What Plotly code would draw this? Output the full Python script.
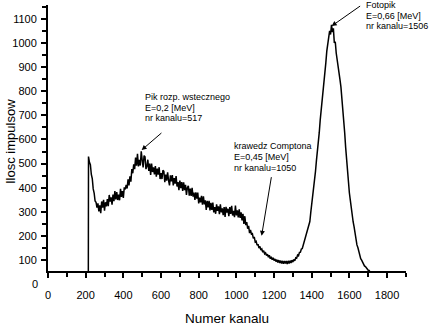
import numpy as np
import plotly.graph_objects as go

# ---------------- data ----------------
first_channel = 214
first_count = 0
channel_start = 215
channel_step = 5

counts_low = [  # 215 .. 510
    529, 505, 495, 455, 438, 395, 378, 345, 340, 318,
    335, 302, 327, 295, 343, 317, 350, 305, 340, 323,
    353, 324, 370, 343, 360, 330, 372, 344, 386, 352,
    382, 349, 371, 348, 395, 362, 386, 358, 402, 393,
    412, 397, 435, 410, 447, 425, 477, 460, 497, 477,
    525, 491, 540, 488, 515, 492, 551, 515, 484, 533,
]
counts_mid = [  # 515 .. 1010
    528, 477, 489, 516, 470, 500, 453, 500, 465, 484,
    455, 490, 446, 479, 454, 485, 436, 461, 436, 472,
    468, 423, 454, 429, 464, 430, 410, 451, 426, 452,
    410, 440, 417, 448, 405, 423, 390, 430, 398, 423,
    387, 422, 390, 412, 370, 400, 408, 367, 396, 366,
    400, 363, 380, 349, 381, 355, 380, 335, 359, 339,
    366, 330, 364, 331, 348, 308, 346, 318, 346, 306,
    337, 308, 338, 298, 320, 292, 331, 304, 323, 290,
    331, 298, 315, 286, 320, 279, 321, 297, 313, 282,
    320, 292, 325, 285, 304, 278, 326, 285, 306, 277,
]
counts_compton = [  # 1015 .. 1360
    310, 275, 298, 265, 292, 250, 282, 245, 258, 230,
    242, 212, 225, 208, 210, 190, 196, 175, 178, 162,
    166, 150, 157, 142, 146, 133, 139, 126, 130, 119,
    125, 112, 120, 106, 114, 102, 110, 98, 105, 94,
    102, 90, 100, 88, 98, 86, 97, 85, 96, 86,
    96, 84, 97, 86, 98, 88, 100, 92, 103, 97,
    110, 108, 121, 118, 132, 133, 146, 148, 162, 166,
]
counts_peak = [  # 1365 .. 1715
    182, 194, 213, 224, 245, 260, 298, 328, 368, 398,
    438, 468, 512, 543, 592, 628, 680, 716, 765, 798,
    832, 858, 918, 966, 1003, 1028, 1050, 1035, 1075, 1045,
    1060, 1000, 1005, 958, 935, 898, 880, 848, 818, 778,
    732, 678, 628, 568, 512, 448, 418, 378, 348, 308,
    288, 258, 238, 208, 190, 163, 152, 133, 122, 106,
    100, 89, 85, 76, 73, 66, 65, 58, 57, 50, 44,
]

x_ticks = [0, 200, 400, 600, 800, 1000, 1200, 1400, 1600, 1800]
y_ticks = [100, 200, 300, 400, 500, 600, 700, 800, 900, 1000, 1100]
x_range = [0, 1900.5]
y_range = [55, 1157]

x_title = "Numer kanalu"
y_title = "Ilosc impulsow"

notes = [
    # (arrow head ch, count, tail ch, count, text lines)
    (497, 556, 610, 632, ["Pik rozp. wstecznego", "E=0,2 [MeV]", "nr kanalu=517"]),
    (1134, 201, 1187, 450, ["krawedz Comptona", "E=0,45 [MeV]", "nr kanalu=1050"]),
    (1506, 1070, 1665, 1157, ["Fotopik", "E=0,66 [MeV]", "nr kanalu=1506"]),
]

# ---------------- build ----------------
counts = counts_low + counts_mid + counts_compton + counts_peak
channels = [first_channel] + [channel_start + channel_step * i for i in range(len(counts))]
values = [first_count] + counts

W, H = 430, 328
ML, MR, MT, MB = 48, 24, 5, 57
PW, PH = W - ML - MR, H - MT - MB


def px(xp):
    return (xp - ML) / PW


def py(yp):
    return (H - MB - yp) / PH


FONT = "Liberation Sans, Arial, sans-serif"

fig = go.Figure()
fig.add_trace(go.Scatter(x=channels, y=values, mode="lines",
                         line=dict(color="black", width=1.5), showlegend=False,
                         hoverinfo="skip"))

axis_common = dict(showgrid=False, zeroline=False, showline=True, linecolor="black",
                   linewidth=2, ticks="outside", ticklen=5, tickwidth=2,
                   tickcolor="black", tickfont=dict(family=FONT, size=11, color="black"),
                   mirror=False)

fig.update_layout(
    width=W, height=H,
    margin=dict(l=ML, r=MR, t=MT, b=MB, pad=0),
    paper_bgcolor="white", plot_bgcolor="white",
    xaxis=dict(range=x_range, tickmode="array", tickvals=x_ticks,
               ticktext=[str(v) for v in x_ticks], ticklabelstandoff=8,
               minor=dict(dtick=100, tick0=0, ticks="outside", ticklen=4,
                          tickwidth=2, tickcolor="black", showgrid=False),
               **axis_common),
    yaxis=dict(range=y_range, tickmode="array", tickvals=y_ticks,
               ticktext=[str(v) for v in y_ticks], ticklabelstandoff=2,
               minor=dict(dtick=50, tick0=0, ticks="outside", ticklen=4,
                          tickwidth=2, tickcolor="black", showgrid=False),
               **axis_common),
)

annotations = []
# y "0" label below the x axis
annotations.append(dict(xref="paper", yref="paper", x=0, y=(0 - y_range[0]) / (y_range[1] - y_range[0]),
                        xanchor="right", yanchor="middle", xshift=-8, showarrow=False,
                        text="0", font=dict(family=FONT, size=11, color="black")))
# axis titles
annotations.append(dict(xref="paper", yref="paper", x=px(227), y=py(318),
                        xanchor="center", yanchor="middle", showarrow=False,
                        text=x_title, font=dict(family=FONT, size=13.5, color="black")))
annotations.append(dict(xref="paper", yref="paper", x=px(10), y=py(142),
                        xanchor="center", yanchor="middle", showarrow=False, textangle=-90,
                        text=y_title, font=dict(family=FONT, size=13, color="black")))

text_pos = [(143, 96.5), (231.5, 145.5), (364, 4.5)]
for (hx, hy, tx, ty, lines), (lx, ly) in zip(notes, text_pos):
    annotations.append(dict(x=hx, y=hy, ax=tx, ay=ty, xref="x", yref="y",
                            axref="x", ayref="y", text="", showarrow=True,
                            arrowhead=2, arrowsize=1, arrowwidth=1, arrowcolor="black"))
    for i, line in enumerate(lines):
        annotations.append(dict(xref="paper", yref="paper", x=px(lx), y=py(ly + 11 * i),
                                xanchor="left", yanchor="middle", showarrow=False,
                                text=line, font=dict(family=FONT, size=9, color="black")))

fig.update_layout(annotations=annotations)
fig.write_html("out.html")
